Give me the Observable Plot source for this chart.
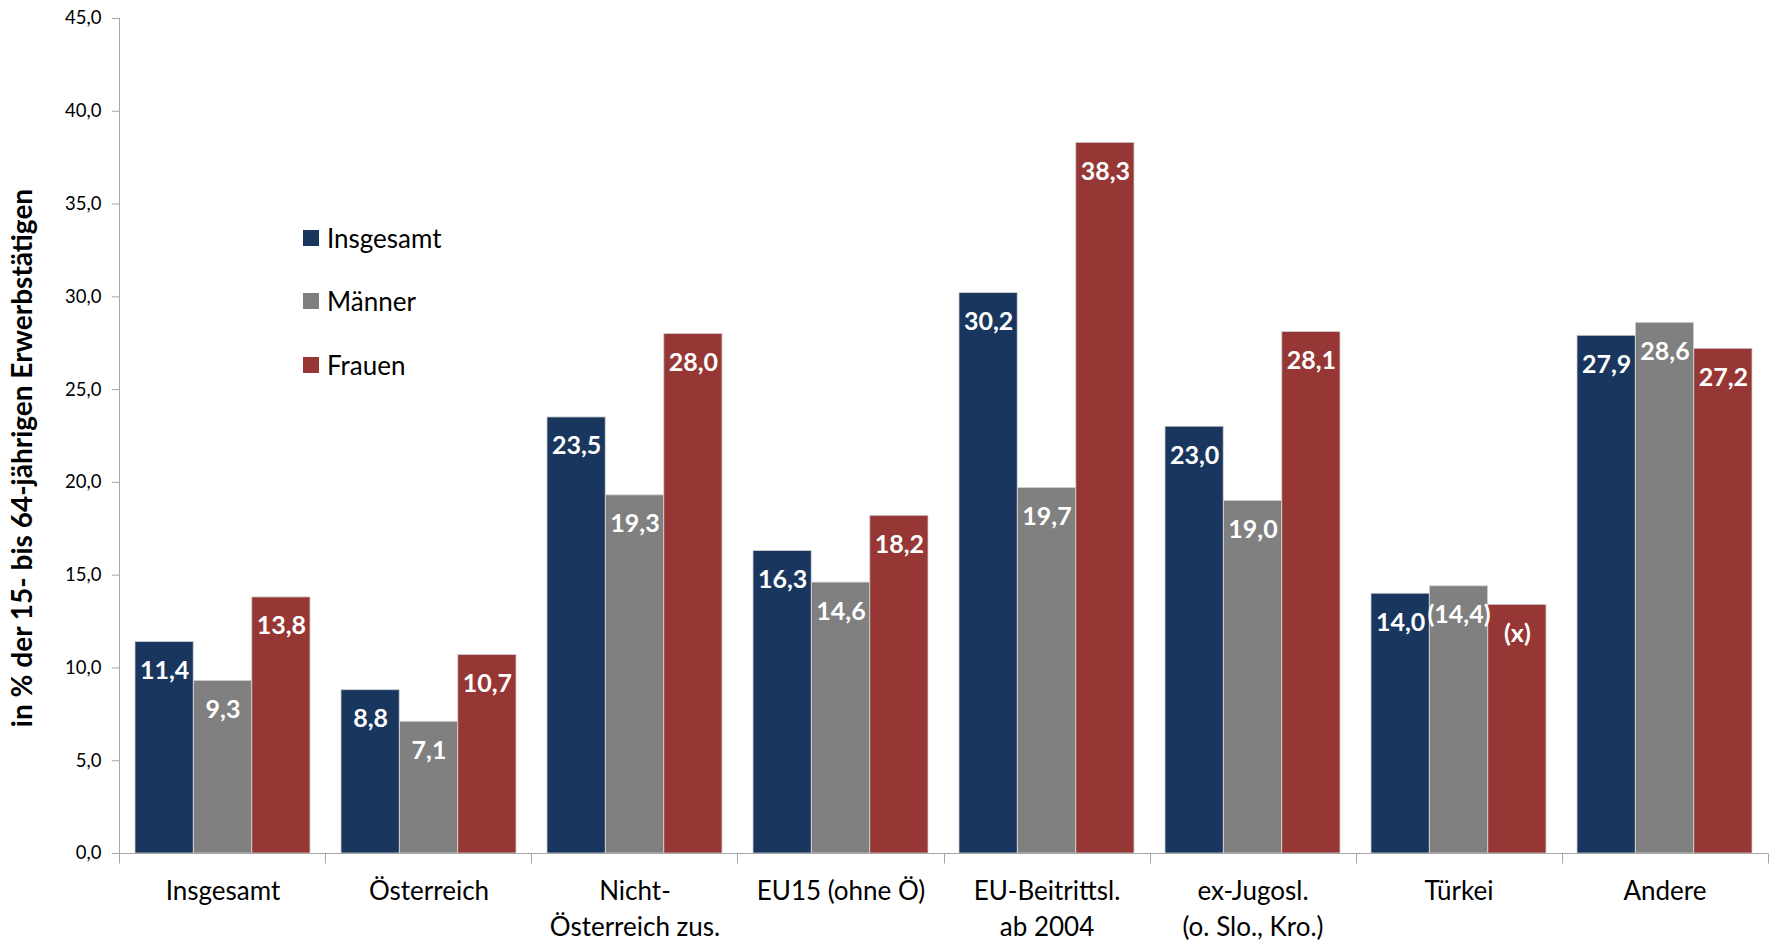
<!DOCTYPE html>
<html>
<head>
<meta charset="utf-8">
<script src="https://cdn.jsdelivr.net/npm/d3@7"></script>
<script src="https://cdn.jsdelivr.net/npm/@observablehq/plot@0.6"></script>
<style>
  body { margin: 0; background: #fff; font-family: Lato, sans-serif; }
  #wrap { position: relative; width: 1773px; height: 942px; }
  .legend { position: absolute; left: 303px; top: 206px; }
  .legend .row { display: flex; align-items: center; height: 63.5px; font-size: 26px; color: #000; }
  .legend .sw { width: 16px; height: 16px; margin-right: 8px; }
</style>
</head>
<body>
<div id="wrap"></div>
<script>
// ---- data ----
const categories = ["Insgesamt", "Österreich", "Nicht-\nÖsterreich zus.", "EU15 (ohne Ö)",
  "EU-Beitrittsl.\nab 2004", "ex-Jugosl.\n(o. Slo., Kro.)", "Türkei", "Andere"];
const series = ["Insgesamt", "Männer", "Frauen"];
const insgesamt = [11.4, 8.8, 23.5, 16.3, 30.2, 23.0, 14.0, 27.9];
const maenner   = [9.3, 7.1, 19.3, 14.6, 19.7, 19.0, 14.4, 28.6];
const frauen    = [13.8, 10.7, 28.0, 18.2, 38.3, 28.1, 13.4, 27.2];
const labelOverrides = [
  {category: "Türkei", series: "Männer", text: "(14,4)"},
  {category: "Türkei", series: "Frauen", text: "(x)"}
];
const yTicks = [0, 5, 10, 15, 20, 25, 30, 35, 40, 45];
const yTitle = "in % der 15- bis 64-jährigen Erwerbstätigen";
const colors = ["#18365e", "#808080", "#963735"];

// ---- layout ----
const W = 1773, H = 942;
const mL = 119, mR = 5, mT = 18, mB = 89;
const padInner = 0.15;
const step = (W - mL - mR) / categories.length;
const third = step * (1 - padInner) / 3;

const fmt = v => d3.format(".1f")(v).replace(".", ",");
const valuesBySeries = [insgesamt, maenner, frauen];
const rows = [];
series.forEach((s, j) => categories.forEach((c, i) => {
  const o = labelOverrides.find(d => d.category === c && d.series === s);
  rows.push({category: c, series: s, value: valuesBySeries[j][i], label: o ? o.text : fmt(valuesBySeries[j][i])});
}));

function axisLines(index, scales, values, dims) {
  const {width, marginLeft, marginRight} = dims;
  const y0 = Math.round(scales.y(0)) + 0.5;
  const yTop = scales.y(45);
  const g = d3.create("svg:g").attr("stroke", "#a6a6a6").attr("stroke-width", 1);
  const n = categories.length;
  const st = (width - marginLeft - marginRight) / n;
  g.append("line").attr("x1", marginLeft + 0.5).attr("x2", marginLeft + 0.5).attr("y1", yTop).attr("y2", y0);
  g.append("line").attr("x1", marginLeft).attr("x2", width - marginRight).attr("y1", y0).attr("y2", y0);
  for (let i = 0; i <= n; i++) {
    const x = Math.round(marginLeft + i * st) + 0.5;
    g.append("line").attr("x1", x).attr("x2", x).attr("y1", y0).attr("y2", y0 + 10);
  }
  return g.node();
}

const marks = [];
series.forEach((s, j) => {
  const d = rows.filter(r => r.series === s);
  marks.push(Plot.barY(d, {
    x: "category", y: "value", fill: "series",
    insetLeft: j * third, insetRight: (2 - j) * third,
    stroke: "#d0d0d0", strokeWidth: 0.8
  }));
});
series.forEach((s, j) => {
  const d = rows.filter(r => r.series === s);
  marks.push(Plot.text(d, {
    x: "category", y: "value", text: "label", dx: (j - 1) * third, dy: 29,
    fill: "#fff", fontWeight: "bold", fontSize: 25
  }));
});
marks.push(axisLines);
marks.push(Plot.axisY({ticks: yTicks, tickFormat: fmt, tickSize: 7, tickPadding: 11, stroke: "#a6a6a6", fontSize: 18.5, fill: "#000", label: null}));
marks.push(Plot.text(categories, {
  x: d => d, text: d => d, frameAnchor: "bottom", lineAnchor: "top",
  dy: 21, lineHeight: 1.385, fontSize: 26, fill: "#000"
}));
marks.push(Plot.text([yTitle], {
  text: d => d, frameAnchor: "left", textAnchor: "middle", rotate: -90, dx: -96, dy: 22,
  fontSize: 28, fontWeight: "bold", fill: "#000"
}));

const chart = Plot.plot({
  width: W, height: H,
  marginLeft: mL, marginRight: mR, marginTop: mT, marginBottom: mB,
  style: {fontFamily: "Lato, sans-serif", background: "#fff"},
  x: {domain: categories, paddingInner: padInner, paddingOuter: padInner / 2, axis: null},
  y: {domain: [0, 45], axis: null},
  color: {domain: series, range: colors},
  marks
});

const wrap = document.getElementById("wrap");
wrap.appendChild(chart);

const legend = document.createElement("div");
legend.className = "legend";
series.forEach((s, j) => {
  const row = document.createElement("div");
  row.className = "row";
  const sw = document.createElement("div");
  sw.className = "sw";
  sw.style.background = colors[j];
  const t = document.createElement("span");
  t.textContent = s;
  row.appendChild(sw); row.appendChild(t);
  legend.appendChild(row);
});
wrap.appendChild(legend);
</script>
</body>
</html>
